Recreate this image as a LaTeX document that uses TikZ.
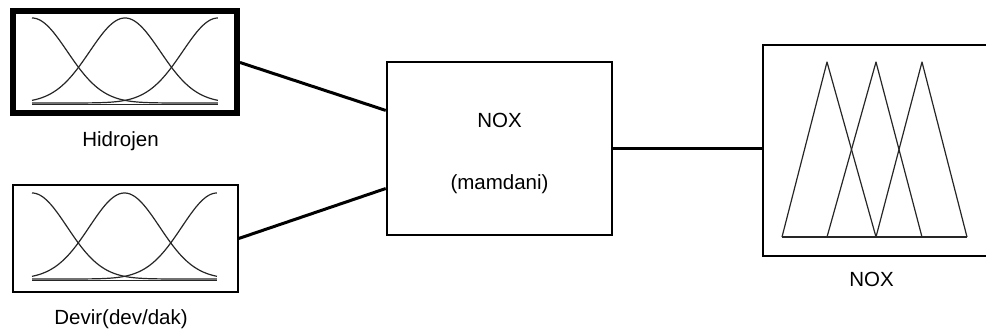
\documentclass[tikz,border=0pt]{standalone}
\usepackage{fontspec}
\setmainfont{Liberation Sans}
\usetikzlibrary{calc}
\begin{document}
\begin{tikzpicture}[x=1pt,y=-1pt,
  box/.style={draw=black,rectangle,inner sep=0pt,fill=none},
  lbl/.style={inner sep=0pt,anchor=base,font=\fontsize{20.5}{24}\selectfont},
  wire/.style={draw=black,line width=3pt},
  mf/.style={draw=black!85,line width=1.2pt,line join=round},
]
\useasboundingbox (0,0) rectangle (986,331);
\clip (0,0) rectangle (986,331);

% input, rule block and output boxes (the output box runs past the right margin)
\node[box,line width=6pt,minimum width=224.5pt,minimum height=102pt] (hid) at (124.75,62.5) {};
\node[box,line width=1.5pt,minimum width=225pt,minimum height=107pt] (dev) at (125.5,238.5) {};
\node[box,line width=2.5pt,minimum width=225pt,minimum height=173pt] (mid) at (499.5,148.5) {};
\node[box,draw=none,minimum width=257pt,minimum height=211pt] (out) at (891.5,150.5) {};
\draw[line width=1.5pt] (out.north east) -- (out.north west) -- (out.south west) -- (out.south east);

% labels
\node[lbl] (lhid) at (120.5,147) {Hidrojen};
\node[lbl] (ldev) at (121,325) {Devir(dev/dak)};
\node[lbl] (lmid1) at (499.5,128) {NOX};
\node[lbl] (lmid2) at (499.5,190) {(mamdani)};
\node[lbl] (lout) at (871.5,287) {NOX};

% connectors
\coordinate (in1) at ($(mid.north west)!0.283!(mid.south west)$);
\coordinate (in2) at ($(mid.north west)!0.728!(mid.south west)$);
\draw[wire] (hid.east) -- (in1);
\draw[wire] (dev.east) -- (in2);
\draw[wire] (mid.east) -- (mid.east -| out.west);

% gaussian membership functions: #1 = left x, #2 = width, #3 = top y, #4 = bottom y
\newcommand{\gaussset}[4]{%
  \foreach \c in {0,0.5,1}{%
    \draw[mf] plot[domain=0:1,samples=90,smooth]
      ({#1+#2*\x},{#4-(#4-#3)*exp(-((\x-\c)^2)/0.072)});
  }%
  \draw[mf] (#1,#4+1.6) -- (#1+#2,#4+1.6);
}
\gaussset{32}{186}{18}{103}
\gaussset{32}{185}{193}{279}

% triangular membership functions of the output
\foreach \a/\b/\c in {782/827/876, 827/876/922, 876/922/967}{
  \draw[mf] (\a,237) -- (\b,62) -- (\c,237);
}
\draw[mf] (782,237) -- (967,237);
\end{tikzpicture}
\end{document}
